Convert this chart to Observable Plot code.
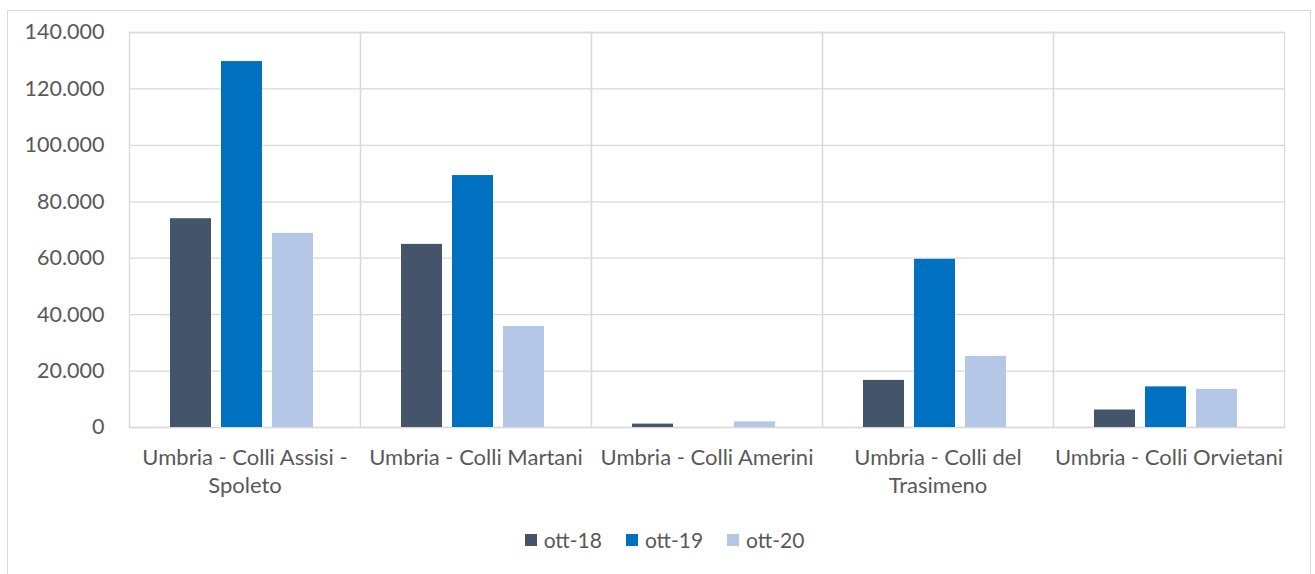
<!DOCTYPE html>
<html>
<head>
<meta charset="utf-8">
<script src="https://cdn.jsdelivr.net/npm/d3@7"></script>
<script src="https://cdn.jsdelivr.net/npm/@observablehq/plot@0.6"></script>
<style>
  html, body { margin: 0; padding: 0; background: #fff; }
  #wrap { position: relative; width: 1315px; height: 574px; overflow: hidden; font-family: Lato, "Open Sans", sans-serif; color: #595959; }
  #border { position: absolute; left: 7px; top: 10px; width: 1302px; height: 600px; border: 1px solid #d9d9d9; }
  #chart { position: absolute; left: 0; top: 0; }
  #legend { position: absolute; left: 0; top: 527px; width: 1315px; display: flex; justify-content: center; gap: 24px; font-size: 21px; padding-left: 14px; box-sizing: border-box; }
  .item { display: flex; align-items: center; gap: 7px; }
  .sw { width: 12px; height: 12px; display: inline-block; }
</style>
</head>
<body>
<div id="wrap">
  <div id="border"></div>
  <div id="chart"></div>
  <div id="legend"></div>
</div>
<script>
const categories = ["Umbria - Colli Assisi - Spoleto", "Umbria - Colli Martani", "Umbria - Colli Amerini", "Umbria - Colli del Trasimeno", "Umbria - Colli Orvietani"];
const categoryLabels = ["Umbria - Colli Assisi -\nSpoleto", "Umbria - Colli Martani", "Umbria - Colli Amerini", "Umbria - Colli del\nTrasimeno", "Umbria - Colli Orvietani"];
const series = ["ott-18", "ott-19", "ott-20"];
const ott18 = [74000, 64900, 1200, 16700, 6200];
const ott19 = [129700, 89300, 0, 59600, 14400];
const ott20 = [68800, 35800, 2000, 25200, 13500];
const yTicks = [0, 20000, 40000, 60000, 80000, 100000, 120000, 140000];
const colors = ["#44546A", "#0070C0", "#B4C7E7"];

const valuesBySeries = [ott18, ott19, ott20];
const data = [];
categories.forEach((c, i) => series.forEach((s, j) => data.push({cat: c, series: s, value: valuesBySeries[j][i]})));

const itLocale = d3.formatLocale({decimal: ",", thousands: ".", grouping: [3], currency: ["€", ""]});
const fmt = itLocale.format(",d");
const labelOf = new Map(categories.map((c, i) => [c, categoryLabels[i]]));

const plot = Plot.plot({
  width: 1315,
  height: 515,
  marginLeft: 127,
  marginRight: 30,
  marginTop: 32,
  marginBottom: 88,
  style: {fontFamily: "Lato, 'Open Sans', sans-serif", fontSize: "18px", color: "#595959", background: "transparent"},
  fx: {domain: categories, padding: 0, label: null, axis: null},
  x: {domain: series, paddingInner: 0.2, paddingOuter: 0.85, align: 0.46, axis: null},
  y: {domain: [0, 140000], axis: null},
  color: {domain: series, range: colors},
  marks: [
    Plot.gridY(yTicks, {stroke: "#d9d9d9", strokeOpacity: 1, strokeWidth: 1.3}),
    Plot.frame({stroke: "#d9d9d9", strokeOpacity: 1, strokeWidth: 1.3}),
    Plot.barY(data, {fx: "cat", x: "series", y: "value", fill: "series"}),
    Plot.axisY(yTicks, {tickSize: 0, tickPadding: 25, tickFormat: fmt, label: null, fontSize: 21.5}),
    Plot.axisFx({anchor: "bottom", tickSize: 0, tickPadding: 17, tickFormat: d => labelOf.get(d), label: null, lineHeight: 1.3, fontSize: 22, textAnchor: "middle"})
  ]
});
document.getElementById("chart").appendChild(plot);

const legend = document.getElementById("legend");
series.forEach((s, i) => {
  const item = document.createElement("div");
  item.className = "item";
  const sw = document.createElement("span");
  sw.className = "sw";
  sw.style.background = colors[i];
  const t = document.createElement("span");
  t.textContent = s;
  item.appendChild(sw);
  item.appendChild(t);
  legend.appendChild(item);
});
</script>
</body>
</html>
